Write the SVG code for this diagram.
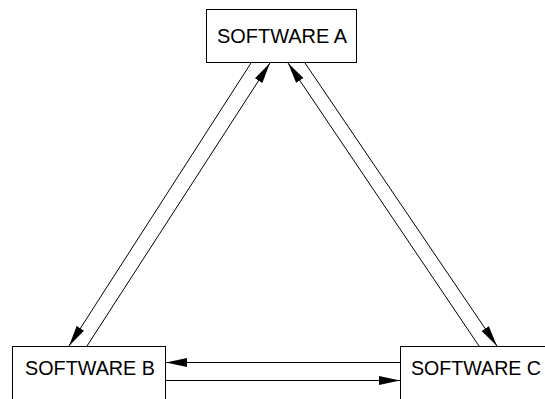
<svg xmlns="http://www.w3.org/2000/svg" width="545" height="399" viewBox="0 0 545 399">
<style>
.box{fill:#fff;stroke:#000;stroke-width:1}
.lbl{font-family:"Liberation Sans",Arial,sans-serif;font-size:19.5px;fill:#000}
.ln{stroke:#000;stroke-width:1;fill:none;marker-end:url(#ah)}
</style>
<defs>
<marker id="ah" markerUnits="userSpaceOnUse" markerWidth="22" markerHeight="10" refX="21" refY="5" orient="auto" viewBox="0 0 22 10">
<path d="M0,0.6 L21,5 L0,9.4 Z" fill="#000"/>
</marker>
</defs>
<rect width="545" height="399" fill="#fff"/>
<g id="nodeA">
<rect class="box" x="206.5" y="9.5" width="150" height="53"/>
<text class="lbl" x="217" y="42.5" textLength="130" lengthAdjust="spacingAndGlyphs">SOFTWARE A</text>
</g>
<g id="nodeB">
<rect class="box" x="12.5" y="346.5" width="153" height="60"/>
<text class="lbl" x="25" y="375" textLength="130" lengthAdjust="spacingAndGlyphs">SOFTWARE B</text>
</g>
<g id="nodeC">
<rect class="box" x="400.5" y="346.5" width="160" height="60"/>
<text class="lbl" x="411" y="375" textLength="130" lengthAdjust="spacingAndGlyphs">SOFTWARE C</text>
</g>
<g id="connectors">
<line class="ln" x1="251" y1="63" x2="69" y2="346"/>
<line class="ln" x1="87" y1="346" x2="270" y2="63"/>
<line class="ln" x1="479" y1="346" x2="288" y2="63"/>
<line class="ln" x1="305" y1="63" x2="497" y2="346"/>
<line class="ln" x1="400" y1="362.5" x2="166" y2="362.5"/>
<line class="ln" x1="166" y1="380.5" x2="400" y2="380.5"/>
</g>
</svg>
